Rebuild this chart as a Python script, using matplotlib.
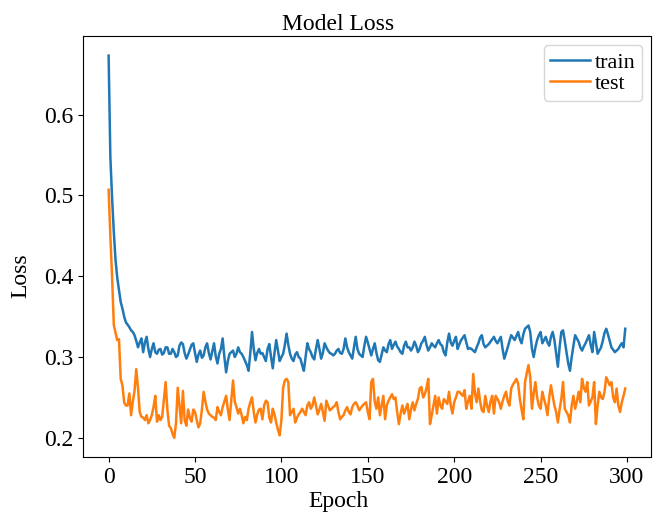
import numpy
import matplotlib.pyplot as plt

plt.rcParams['font.family'] = ['Liberation Serif', 'DejaVu Serif']

train_loss = [
    0.673, 0.548, 0.497, 0.455, 0.420, 0.398, 0.383, 0.368, 0.360, 0.350,
    0.343, 0.340, 0.337, 0.333, 0.331, 0.327, 0.320, 0.312, 0.318, 0.323,
    0.306, 0.318, 0.325, 0.310, 0.300, 0.310, 0.317, 0.306, 0.304, 0.309,
    0.310, 0.303, 0.305, 0.312, 0.312, 0.304, 0.304, 0.310, 0.306, 0.300,
    0.302, 0.314, 0.318, 0.316, 0.305, 0.298, 0.303, 0.309, 0.315, 0.317,
    0.305, 0.294, 0.303, 0.308, 0.299, 0.302, 0.312, 0.317, 0.305, 0.297,
    0.307, 0.317, 0.301, 0.292, 0.304, 0.310, 0.323, 0.300, 0.281, 0.295,
    0.304, 0.306, 0.308, 0.300, 0.304, 0.312, 0.306, 0.304, 0.300, 0.295,
    0.290, 0.283, 0.305, 0.331, 0.310, 0.296, 0.305, 0.310, 0.304, 0.305,
    0.300, 0.295, 0.310, 0.316, 0.300, 0.286, 0.305, 0.321, 0.308, 0.295,
    0.300, 0.304, 0.315, 0.329, 0.315, 0.304, 0.298, 0.295, 0.303, 0.306,
    0.300, 0.298, 0.290, 0.283, 0.300, 0.317, 0.310, 0.306, 0.300, 0.297,
    0.310, 0.321, 0.310, 0.298, 0.305, 0.317, 0.312, 0.308, 0.305, 0.304,
    0.302, 0.304, 0.308, 0.310, 0.305, 0.304, 0.310, 0.323, 0.312, 0.306,
    0.302, 0.298, 0.312, 0.325, 0.310, 0.304, 0.302, 0.300, 0.314, 0.325,
    0.318, 0.310, 0.302, 0.310, 0.317, 0.305, 0.296, 0.294, 0.303, 0.312,
    0.308, 0.306, 0.316, 0.321, 0.310, 0.315, 0.319, 0.313, 0.310, 0.306,
    0.304, 0.314, 0.319, 0.312, 0.312, 0.308, 0.312, 0.319, 0.314, 0.306,
    0.310, 0.317, 0.320, 0.325, 0.315, 0.308, 0.312, 0.317, 0.314, 0.312,
    0.317, 0.321, 0.316, 0.314, 0.306, 0.302, 0.318, 0.329, 0.318, 0.314,
    0.320, 0.325, 0.310, 0.316, 0.321, 0.324, 0.327, 0.318, 0.310, 0.311,
    0.310, 0.308, 0.306, 0.312, 0.317, 0.324, 0.327, 0.316, 0.312, 0.314,
    0.316, 0.319, 0.322, 0.325, 0.320, 0.317, 0.321, 0.325, 0.310, 0.298,
    0.305, 0.312, 0.320, 0.327, 0.324, 0.321, 0.326, 0.331, 0.322, 0.317,
    0.328, 0.335, 0.337, 0.339, 0.331, 0.310, 0.300, 0.312, 0.321, 0.327,
    0.331, 0.317, 0.321, 0.325, 0.318, 0.314, 0.325, 0.331, 0.321, 0.305,
    0.288, 0.312, 0.331, 0.333, 0.320, 0.306, 0.292, 0.283, 0.300, 0.314,
    0.327, 0.323, 0.319, 0.312, 0.308, 0.313, 0.317, 0.322, 0.327, 0.315,
    0.306, 0.331, 0.318, 0.304, 0.308, 0.312, 0.320, 0.330, 0.335, 0.328,
    0.320, 0.312, 0.309, 0.306, 0.308, 0.310, 0.314, 0.317, 0.312, 0.335,
]

test_loss = [
    0.507, 0.450, 0.400, 0.340, 0.330, 0.321, 0.322, 0.273, 0.265, 0.244,
    0.240, 0.240, 0.255, 0.228, 0.245, 0.258, 0.285, 0.262, 0.232, 0.226,
    0.225, 0.222, 0.228, 0.218, 0.222, 0.228, 0.238, 0.252, 0.220, 0.228,
    0.222, 0.226, 0.248, 0.269, 0.235, 0.215, 0.212, 0.205, 0.200, 0.218,
    0.262, 0.240, 0.218, 0.258, 0.222, 0.215, 0.235, 0.225, 0.220, 0.235,
    0.232, 0.222, 0.213, 0.218, 0.235, 0.257, 0.245, 0.235, 0.230, 0.228,
    0.226, 0.225, 0.222, 0.238, 0.232, 0.228, 0.238, 0.245, 0.252, 0.235,
    0.222, 0.246, 0.271, 0.245, 0.238, 0.230, 0.236, 0.228, 0.218, 0.226,
    0.222, 0.236, 0.244, 0.250, 0.232, 0.219, 0.229, 0.235, 0.236, 0.223,
    0.240, 0.246, 0.244, 0.225, 0.219, 0.236, 0.229, 0.219, 0.210, 0.203,
    0.222, 0.262, 0.271, 0.273, 0.269, 0.228, 0.232, 0.236, 0.219, 0.225,
    0.229, 0.232, 0.236, 0.232, 0.228, 0.240, 0.244, 0.236, 0.240, 0.250,
    0.240, 0.229, 0.235, 0.242, 0.232, 0.221, 0.246, 0.240, 0.234, 0.236,
    0.238, 0.240, 0.244, 0.232, 0.223, 0.226, 0.228, 0.234, 0.238, 0.232,
    0.229, 0.238, 0.242, 0.244, 0.240, 0.234, 0.237, 0.240, 0.242, 0.244,
    0.232, 0.223, 0.269, 0.273, 0.245, 0.236, 0.250, 0.228, 0.240, 0.252,
    0.223, 0.240, 0.246, 0.250, 0.254, 0.248, 0.250, 0.232, 0.217, 0.230,
    0.240, 0.230, 0.236, 0.242, 0.223, 0.235, 0.244, 0.234, 0.242, 0.248,
    0.261, 0.263, 0.250, 0.254, 0.262, 0.273, 0.217, 0.228, 0.240, 0.252,
    0.230, 0.250, 0.240, 0.236, 0.248, 0.245, 0.242, 0.257, 0.240, 0.230,
    0.244, 0.250, 0.257, 0.257, 0.254, 0.252, 0.259, 0.236, 0.245, 0.252,
    0.236, 0.279, 0.255, 0.244, 0.261, 0.245, 0.234, 0.232, 0.252, 0.240,
    0.232, 0.245, 0.252, 0.230, 0.252, 0.248, 0.244, 0.236, 0.245, 0.252,
    0.257, 0.245, 0.240, 0.261, 0.266, 0.269, 0.273, 0.267, 0.248, 0.235,
    0.223, 0.269, 0.280, 0.290, 0.275, 0.236, 0.255, 0.269, 0.250, 0.240,
    0.236, 0.257, 0.248, 0.240, 0.228, 0.250, 0.265, 0.252, 0.240, 0.232,
    0.219, 0.235, 0.248, 0.269, 0.236, 0.232, 0.228, 0.219, 0.240, 0.252,
    0.236, 0.245, 0.257, 0.244, 0.273, 0.262, 0.257, 0.269, 0.240, 0.245,
    0.250, 0.269, 0.217, 0.240, 0.257, 0.250, 0.248, 0.257, 0.275, 0.270,
    0.265, 0.269, 0.250, 0.244, 0.261, 0.240, 0.232, 0.244, 0.252, 0.261,
]

epochs = numpy.arange(len(train_loss))

fig = plt.figure(figsize=(6.57, 5.14), dpi=100)
ax = fig.add_axes([0.126, 0.111, 0.865, 0.818])

ax.plot(epochs, train_loss, color='#1f77b4', linewidth=1.8, label="train")
ax.plot(epochs, test_loss, color='#ff7f0e', linewidth=1.8, label="test")

# title and axis labels sit a bit off-centre in the original
ax.set_title("Model Loss", fontsize=17, x=0.45, pad=5)
ax.set_xlabel("Epoch", fontsize=17, labelpad=0)
ax.xaxis.set_label_coords(0.45, -0.08)
ax.set_ylabel("Loss", fontsize=17)
ax.yaxis.set_label_coords(-0.09, 0.43)
ax.tick_params(labelsize=17)
ax.set_xticks([0, 50, 100, 150, 200, 250, 300])
ax.set_yticks([0.2, 0.3, 0.4, 0.5, 0.6])
ax.legend(loc="upper right", fontsize=16, handlelength=1.8, handletextpad=0.2,
          borderpad=0.3, labelspacing=0.05, borderaxespad=0.4)

plt.savefig("out.png", dpi=100)
